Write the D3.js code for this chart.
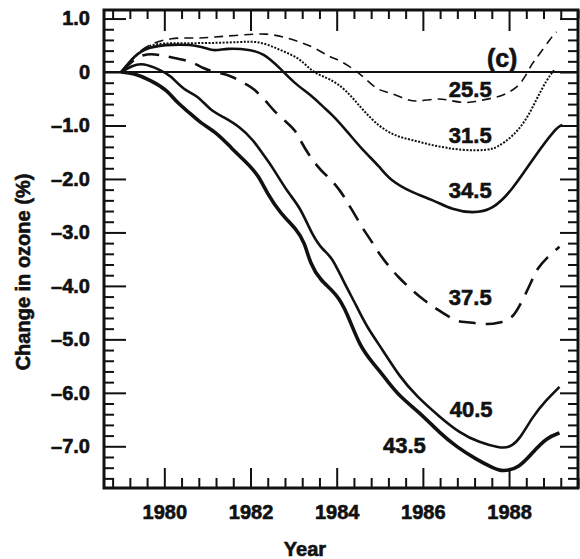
<!DOCTYPE html>
<html>
<head>
<meta charset="utf-8">
<script src="https://cdn.jsdelivr.net/npm/d3@7"></script>
<style>
  body { margin: 0; background: #fff; }
  text { font-family: "Liberation Sans", Arial, sans-serif; font-weight: bold; fill: #111; stroke: #111; stroke-width: 0.6px; }
</style>
</head>
<body>
<svg id="chart" width="580" height="559"></svg>
<script>
// ozone change curves, [year, percent]
const s25_5 = [[1979.0,0],[1979.3,0.3],[1979.6,0.5],[1980.14,0.65],[1980.83,0.63],[1981.06,0.65],[1981.76,0.69],[1982.38,0.73],[1982.85,0.64],[1983.22,0.54],[1983.5,0.45],[1983.84,0.28],[1984.07,0.22],[1984.42,0.04],[1984.65,-0.11],[1984.95,-0.34],[1985.19,-0.37],[1985.63,-0.52],[1985.86,-0.56],[1986.32,-0.49],[1986.57,-0.52],[1986.92,-0.58],[1987.2,-0.56],[1987.6,-0.49],[1987.9,-0.43],[1988.2,-0.28],[1988.36,-0.11],[1988.54,0.17],[1988.66,0.28],[1988.98,0.65],[1989.1,0.75]];
const s31_5 = [[1979.0,0],[1979.3,0.28],[1979.6,0.5],[1980.0,0.54],[1980.45,0.54],[1981.06,0.54],[1981.76,0.56],[1982.22,0.58],[1982.69,0.41],[1983.15,0.26],[1983.45,-0.02],[1983.84,-0.12],[1984.23,-0.34],[1984.6,-0.71],[1985.0,-1.03],[1985.39,-1.21],[1985.76,-1.27],[1986.16,-1.36],[1986.55,-1.42],[1987.0,-1.47],[1987.5,-1.46],[1987.71,-1.42],[1988.08,-1.21],[1988.4,-0.9],[1988.63,-0.52],[1988.87,-0.15],[1989.05,0.04]];
const s34_5 = [[1979.0,0],[1979.3,0.3],[1979.6,0.47],[1980.2,0.52],[1980.83,0.5],[1981.13,0.38],[1981.45,0.45],[1982.0,0.42],[1982.3,0.35],[1982.69,0.07],[1983.0,-0.2],[1983.45,-0.46],[1983.68,-0.65],[1983.9,-0.8],[1984.23,-1.1],[1984.6,-1.46],[1985.0,-1.77],[1985.23,-2.02],[1985.76,-2.26],[1986.23,-2.39],[1986.69,-2.58],[1987.15,-2.64],[1987.62,-2.58],[1988.08,-2.2],[1988.54,-1.64],[1989.1,-1.03],[1989.24,-0.99]];
const s37_5 = [[1979.0,0],[1979.3,0.25],[1979.6,0.35],[1979.9,0.32],[1980.25,0.26],[1980.67,0.19],[1980.88,0.07],[1981.25,-0.02],[1981.53,-0.06],[1981.92,-0.24],[1982.06,-0.3],[1982.38,-0.56],[1982.52,-0.71],[1982.85,-0.95],[1983.03,-1.08],[1983.15,-1.27],[1983.38,-1.59],[1983.66,-1.87],[1983.84,-1.98],[1984.12,-2.26],[1984.24,-2.43],[1984.47,-2.73],[1984.58,-2.9],[1984.84,-3.2],[1984.95,-3.36],[1985.39,-3.83],[1986.09,-4.32],[1986.46,-4.5],[1986.78,-4.67],[1987.0,-4.67],[1987.48,-4.73],[1987.78,-4.69],[1988.06,-4.62],[1988.24,-4.39],[1988.54,-3.89],[1988.63,-3.7],[1988.9,-3.45],[1989.17,-3.27]];
const s40_5 = [[1979.0,0],[1979.25,0.12],[1979.51,0.17],[1979.9,0.04],[1980.14,-0.06],[1980.45,-0.34],[1980.76,-0.43],[1981.06,-0.71],[1981.37,-0.84],[1981.76,-1.03],[1982.06,-1.27],[1982.3,-1.55],[1982.52,-1.79],[1982.85,-2.24],[1983.15,-2.52],[1983.45,-3.08],[1983.68,-3.33],[1983.89,-3.46],[1984.14,-3.89],[1984.47,-4.39],[1984.7,-4.77],[1985.07,-5.2],[1985.46,-5.7],[1985.86,-6.07],[1986.39,-6.45],[1986.85,-6.75],[1987.31,-6.93],[1987.78,-7.03],[1988.0,-7.03],[1988.24,-6.88],[1988.54,-6.45],[1988.87,-6.13],[1989.17,-5.89]];
const s43_5 = [[1979.0,0],[1979.28,-0.02],[1979.68,-0.15],[1980.07,-0.34],[1980.3,-0.58],[1980.6,-0.77],[1980.83,-0.95],[1981.23,-1.14],[1981.55,-1.42],[1981.92,-1.7],[1982.18,-1.93],[1982.38,-2.26],[1982.69,-2.64],[1983.08,-2.95],[1983.26,-3.2],[1983.38,-3.57],[1983.61,-3.89],[1984.0,-4.15],[1984.24,-4.5],[1984.54,-5.14],[1984.84,-5.44],[1985.16,-5.76],[1985.46,-6.07],[1985.93,-6.37],[1986.39,-6.75],[1986.78,-7.01],[1987.25,-7.25],[1987.62,-7.4],[1987.85,-7.48],[1988.24,-7.4],[1988.54,-7.12],[1988.87,-6.84],[1989.17,-6.75]];

const levels = ["25.5", "31.5", "34.5", "37.5", "40.5", "43.5"];
const seriesData = [s25_5, s31_5, s34_5, s37_5, s40_5, s43_5];
// where each level label sits (year, percent at baseline)
const labelYears = [1987.1, 1987.1, 1987.1, 1987.1, 1987.12, 1985.57];
const labelValues = [-0.47, -1.33, -2.36, -4.36, -6.45, -7.13];

const yearTicks = [1980, 1982, 1984, 1986, 1988];
const valueTicks = [1, 0, -1, -2, -3, -4, -5, -6, -7];
const valueTickLabels = ["1.0", "0", "\u20131.0", "\u20132.0", "\u20133.0", "\u20134.0", "\u20135.0", "\u20136.0", "\u20137.0"];

// line look per level
const styles = [
  { w: 1.6, dash: "9,6" },
  { w: 2, dash: "2,1.5" },
  { w: 2.6, dash: null },
  { w: 2.6, dash: "17,10" },
  { w: 2.6, dash: null },
  { w: 3.6, dash: null }
];

const svg = d3.select("#chart"),
  margin = { top: 10, right: 2, bottom: 71, left: 104 },
  width = +svg.attr("width") - margin.left - margin.right,
  height = +svg.attr("height") - margin.top - margin.bottom;

const g = svg.append("g").attr("transform", `translate(${margin.left},${margin.top})`);

const x = d3.scaleLinear().domain([1978.6, 1989.6]).range([0, width]);
const y = d3.scaleLinear().domain([-7.78, 1.16]).range([height, 0]);

const minorX = d3.range(1978.8, 1989.61, 0.4).filter((v) => !yearTicks.some((t) => Math.abs(t - v) < 0.05));
const minorY = d3.range(-7.6, 1.16, 0.2).filter((v) => !valueTicks.some((t) => Math.abs(t - v) < 0.05));

function styleAxis(sel) {
  sel.select(".domain").remove();
  sel.selectAll("line").attr("stroke", "#111").attr("stroke-width", 2);
}

// bottom
g.append("g").attr("transform", `translate(0,${height})`)
  .call(d3.axisBottom(x).tickValues(minorX).tickSize(-10).tickFormat(""))
  .call(styleAxis);
g.append("g").attr("transform", `translate(0,${height})`)
  .call(d3.axisBottom(x).tickValues(yearTicks).tickSize(-20).tickPadding(31).tickFormat(d3.format("d")))
  .call(styleAxis)
  .selectAll("text").style("font-size", "20px").attr("fill", "#111").attr("dy", "0");

// top
g.append("g").call(d3.axisTop(x).tickValues(minorX).tickSize(-9).tickFormat("")).call(styleAxis);
g.append("g").call(d3.axisTop(x).tickValues(yearTicks).tickSize(-21).tickFormat("")).call(styleAxis);

// left
g.append("g").call(d3.axisLeft(y).tickValues(minorY).tickSize(-10).tickFormat("")).call(styleAxis);
g.append("g")
  .call(d3.axisLeft(y).tickValues(valueTicks).tickSize(-22).tickPadding(14)
    .tickFormat((d, i) => valueTickLabels[i]))
  .call(styleAxis)
  .selectAll("text").style("font-size", "20px").attr("fill", "#111");

// right
g.append("g").attr("transform", `translate(${width},0)`)
  .call(d3.axisRight(y).tickValues(minorY).tickSize(-10).tickFormat("")).call(styleAxis);
g.append("g").attr("transform", `translate(${width},0)`)
  .call(d3.axisRight(y).tickValues(valueTicks).tickSize(-18).tickFormat("")).call(styleAxis);

// frame
g.append("rect")
  .attr("width", width).attr("height", height)
  .attr("fill", "none").attr("stroke", "#111").attr("stroke-width", 3);

// zero line
g.append("line")
  .attr("x1", 0).attr("x2", width)
  .attr("y1", y(0)).attr("y2", y(0))
  .attr("stroke", "#111").attr("stroke-width", 2.2);

const line = d3.line()
  .x((d) => x(d[0]))
  .y((d) => y(d[1]))
  .curve(d3.curveBasis);

g.selectAll(".level")
  .data(seriesData)
  .enter()
  .append("path")
  .attr("class", "level")
  .attr("d", line)
  .attr("fill", "none")
  .attr("stroke", "#111")
  .attr("stroke-width", (d, i) => styles[i].w)
  .attr("stroke-dasharray", (d, i) => styles[i].dash)
  .attr("stroke-linejoin", "round");

g.selectAll(".level-label")
  .data(levels)
  .enter()
  .append("text")
  .attr("class", "level-label")
  .attr("x", (d, i) => x(labelYears[i]))
  .attr("y", (d, i) => y(labelValues[i]))
  .attr("text-anchor", "middle")
  .style("font-size", "22px")
  .text((d) => d);

// panel letter
g.append("text")
  .attr("x", x(1987.84))
  .attr("y", y(0) - 5)
  .attr("text-anchor", "middle")
  .style("font-size", "25px")
  .text("(c)");

// axis titles
g.append("text")
  .attr("text-anchor", "middle")
  .attr("x", width / 2 - 36)
  .attr("y", height + 68)
  .style("font-size", "20px")
  .text("Year");

g.append("text")
  .attr("text-anchor", "middle")
  .attr("transform", "rotate(-90)")
  .attr("x", -(272 - margin.top))
  .attr("y", -margin.left + 30)
  .style("font-size", "20px")
  .text("Change in ozone (%)");
</script>
</body>
</html>
